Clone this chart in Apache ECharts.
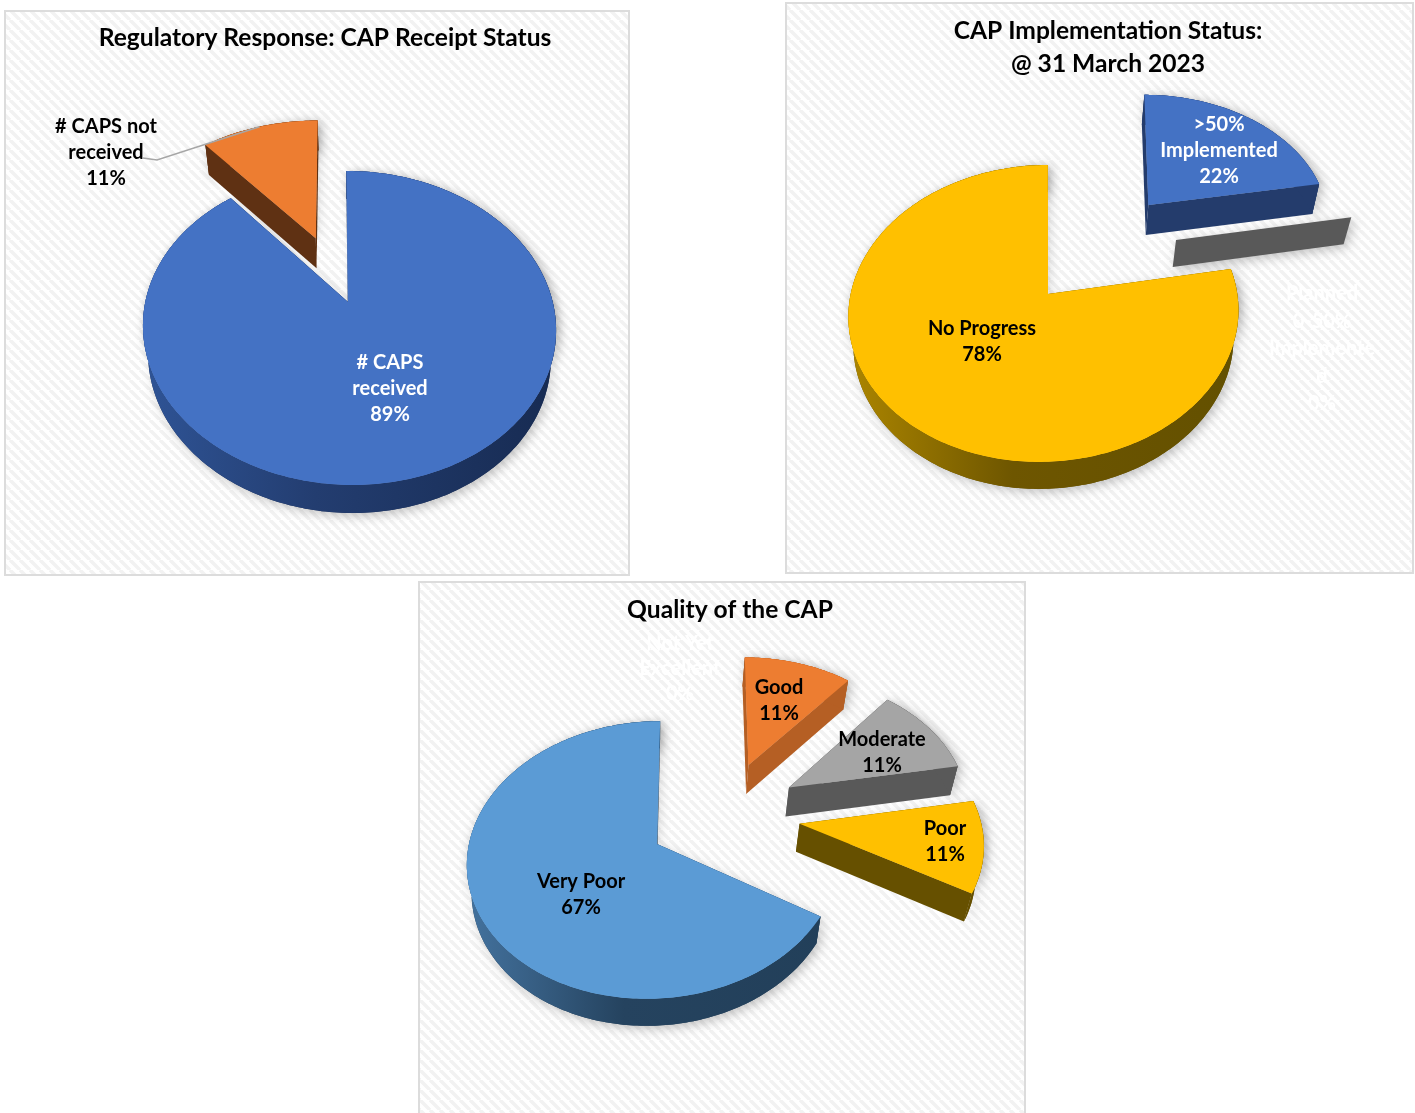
<!DOCTYPE html>
<html><head><meta charset="utf-8">
<style>html,body{margin:0;padding:0;background:#fff}#c{width:1415px;height:1113px}</style>
<script src="https://cdn.jsdelivr.net/npm/echarts@6/dist/echarts.min.js"></script>
</head><body><div id="c"></div>
<script>
// ---- data ----
const receiptCategories = ['# CAPS\nreceived', '# CAPS not\nreceived'];
const receiptValues = [88.9, 11.1];
const implementationCategories = ['>50%\nImplemented', 'Planned\n0-50%\nImplemente\nd', 'No Progress'];
const implementationValues = [22.2, 0, 77.8];
const qualityCategories = ['Not Yet\nExcellent', 'Good', 'Moderate', 'Poor', 'Very Poor'];
const qualityValues = [0, 11.1, 11.1, 11.1, 66.7];
const chartTitles = ['Regulatory Response: CAP Receipt Status', 'CAP Implementation Status:\n@ 31 March 2023', 'Quality of the CAP'];

// ---- styling and layout ----
const FONT = 'Lato, "Open Sans", sans-serif';
const LABEL_SIZE = 20, TITLE_SIZE = 24.6;
const panels = [
  { box:[5,11,624,564], titleAt:[325,22],
    cats:receiptCategories, vals:receiptValues,
    X0:349, Y0:302, kx:203.7, ky:152.7, p:0.1655, depth:[28,30], skew:-0.02, anchor:0, apexDx:-1,
    explode:[0,0.478], radius:[1,1.03], nudge:[[0,0],[-1,0]], tilt:[0,0],
    top:['#4472c4','#ed7d31'], wall:['#1a2e57','#5f3113'],
    grad:[['#2f5496','#233d70','#172b52'],null],
    text:['#fff','#000'], labelAt:[[390,389],[106,153]],
    leader:{1:[[143,158],[157,160]]} },
  { box:[786,3,627,570], titleAt:[1108,15],
    cats:implementationCategories, vals:implementationValues,
    X0:1044, Y0:294, kx:193.3, ky:145.9, p:0.131, depth:[30,27,27], skew:0.03, anchor:2, apexDx:4,
    explode:[0.47,0.457,0.394], radius:[1,1,1], nudge:[[3,0],[1,-1],[0,0]], tilt:[-0.03,0,0],
    top:['#4472c4','#a5a5a5','#ffc000'], wall:['#243c6c','#595959','#665000'],
    grad:[null,null,['#ad8600','#6e5600','#635000']],
    text:['#fff','#fff','#000'], labelAt:[[1219,151],[1322,349],[982,342]],
    lineH:[26,27.5,26], leader:{} },
  { box:[419,582,606,540], titleAt:[730,594],
    cats:qualityCategories, vals:qualityValues,
    X0:654, Y0:844, kx:185, ky:137, p:0.115, depth:[0,29,29,28,27], skew:0.05, anchor:4, apexDx:3,
    explode:[0.42,0.42,0.42,0.42,0.46], radius:[1,1,1,1,1],
    nudge:[[0,0],[-3,1],[-2,1],[-3,1],[0,0]], tilt:[0,0,0,0,0],
    top:['#4472c4','#ed7d31','#a5a5a5','#ffc000','#5b9bd5'],
    wall:[null,'#b55f24','#595959','#665000','#223f59'],
    grad:[null,null,null,null,['#44739f','#25435f','#223f59']],
    text:['#fff','#000','#000','#000','#000'],
    labelAt:[[680,669],[779,701],[882,753],[945,842],[581,895]],
    lineH:[25,26,26,26,26], leader:{} }
];
const WALL_TAPER = 0.975;

function stripeTile(){
  const n=10, c=document.createElement('canvas'); c.width=n; c.height=n;
  const g=c.getContext('2d'); g.fillStyle='#fff'; g.fillRect(0,0,n,n);
  g.strokeStyle='#f2f2f2'; g.lineWidth=3.5;
  for(const i of [-n,0,n]){ g.beginPath(); g.moveTo(i,0); g.lineTo(i+n,n); g.stroke(); }
  return c;
}
const tile = stripeTile();

function makeSeries(P, pi){
  const total = P.vals.reduce((a,b)=>a+b,0);
  const toDeg = v => v/total*360;
  const cum = []; let acc=0; P.vals.forEach(v=>{cum.push(acc); acc+=v;});
  const dir = a => [Math.sin(a*Math.PI/180), Math.cos(a*Math.PI/180)];
  const bis = i => toDeg(cum[i]) + toDeg(P.vals[i])/2;
  const aDir = dir(bis(P.anchor));
  const origin = [-P.explode[P.anchor]*aDir[0], -P.explode[P.anchor]*aDir[1]];
  const project = (u,v) => {
    const d = 1+P.p*v, Y = P.Y0 - P.ky*v/d;
    return [P.X0 + P.kx*u/d - P.skew*(Y-P.Y0), Y];
  };
  return {
    type:'custom', coordinateSystem:'none', name:'chart'+pi, silent:true, animation:false, z:2+pi,
    data:P.vals.map(v=>[v]),
    renderItem(params, api){
      const i = params.dataIndex, val = api.value(0);
      const a0 = toDeg(cum[i]), a1 = a0 + toDeg(val);
      const dB = dir((a0+a1)/2);
      const e = P.explode[i], r = P.radius[i];
      const cu = origin[0]+e*dB[0], cv = origin[1]+e*dB[1];
      const apex0 = project(cu,cv);
      const place = pt => [pt[0]+P.nudge[i][0]+P.tilt[i]*(pt[1]-apex0[1]), pt[1]+P.nudge[i][1]];
      const rim = a => { const d = dir(a); return place(project(cu+r*d[0], cv+r*d[1])); };
      const apex = place(apex0);
      if(i===P.anchor) apex[0]+=P.apexDx;
      const h = P.depth[i];
      const down = pt => [P.X0+(pt[0]-P.X0)*WALL_TAPER, pt[1]+h];
      const arc = [];
      const steps = Math.max(1, Math.ceil(a1-a0));
      for(let s=0;s<=steps;s++) arc.push(rim(a0+(a1-a0)*s/steps));
      const topPoly = [apex].concat(arc);
      const kids = [];
      const shadow = {shadowBlur:11, shadowColor:'rgba(0,0,0,0.24)', shadowOffsetX:3, shadowOffsetY:3};
      const softShadow = {shadowBlur:9, shadowColor:'rgba(0,0,0,0.13)', shadowOffsetX:3, shadowOffsetY:1};
      const wallCol = P.wall[i];
      if(wallCol){
        const swept = arc.concat(arc.map(down).reverse());
        kids.push({type:'polygon', shape:{points:swept}, style:Object.assign({fill:wallCol},shadow)});
        if(val>0) kids.push({type:'polygon', shape:{points:topPoly}, style:Object.assign({fill:P.top[i]},softShadow)});
        const radial = p => ({type:'polygon', shape:{points:[apex,p,down(p),down(apex)]},
                              style:Object.assign({fill:wallCol}, val>0?{}:shadow)});
        kids.push(radial(arc[0]));
        if(val>0) kids.push(radial(arc[arc.length-1]));
        let fill = wallCol;
        if(P.grad[i]){
          const g = P.grad[i], w = P.kx*1.02;
          fill = new echarts.graphic.LinearGradient(P.X0-w,0,P.X0+w,0,
            [{offset:0,color:g[0]},{offset:0.42,color:g[1]},{offset:1,color:g[2]}],true);
        }
        if(val>0) kids.push({type:'polygon', shape:{points:arc.concat(arc.map(down).reverse())}, style:{fill}});
      }
      if(val>0) kids.push({type:'polygon', shape:{points:topPoly}, style:{fill:P.top[i]}});
      if(P.leader[i]){
        const m = rim((a0+a1)/2);
        kids.push({type:'polyline', shape:{points:P.leader[i].concat([m])},
                   style:{stroke:'#a6a6a6', lineWidth:1.5, fill:null}});
      }
      const lh = P.lineH ? P.lineH[i] : 26;
      kids.push({type:'text', z2:50, style:{
        text:P.cats[i]+'\n'+Math.round(val)+'%', x:P.labelAt[i][0], y:P.labelAt[i][1],
        align:'center', verticalAlign:'middle', lineHeight:lh,
        fontFamily:FONT, fontWeight:'bold', fontSize:LABEL_SIZE, fill:P.text[i]}});
      return {type:'group', children:kids};
    }
  };
}

const chart = echarts.init(document.getElementById('c'), null, {renderer:'canvas'});
chart.setOption({
  animation:false,
  backgroundColor:'#fff',
  title: panels.map((P,i)=>({
    text:chartTitles[i], left:P.titleAt[0], top:P.titleAt[1], textAlign:'center', padding:0,
    textStyle:{fontFamily:FONT, fontWeight:'bold', fontSize:TITLE_SIZE, lineHeight:33, color:'#000'}
  })),
  graphic:{elements:panels.map(P=>({
    type:'rect', silent:true, z:0, shape:{x:P.box[0],y:P.box[1],width:P.box[2],height:P.box[3]},
    style:{fill:{image:tile,repeat:'repeat'}, stroke:'#dcdcdc', lineWidth:2}
  }))},
  series: panels.map(makeSeries)
});
</script></body></html>
